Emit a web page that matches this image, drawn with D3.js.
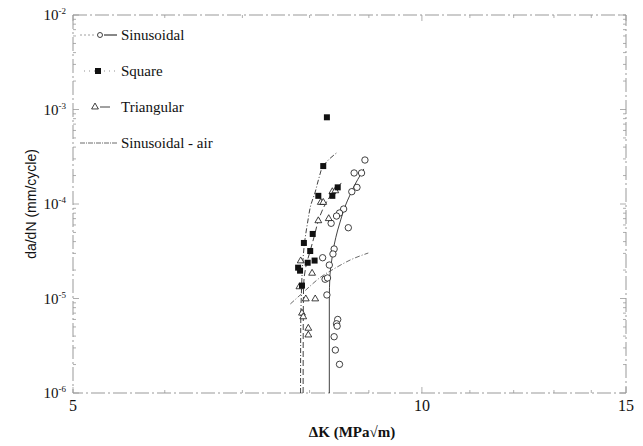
<!DOCTYPE html>
<html><head><meta charset="utf-8">
<script src="https://cdn.jsdelivr.net/npm/d3@7"></script>
<style>body{margin:0;background:#fff}svg{display:block}</style>
</head><body>
<svg id="chart" width="643" height="446"></svg>
<script>
// ---- data (ΔK in MPa√m, da/dN in mm/cycle) ----
const sinusoidalPts = [
  [8.93,2.92e-4],[8.74,2.13e-4],[8.87,2.13e-4],[8.79,1.50e-4],[8.70,1.35e-4],
  [8.56,8.85e-5],[8.49,8.03e-5],[8.44,7.46e-5],[8.35,6.25e-5],[8.64,5.61e-5],
  [8.40,3.34e-5],[8.38,2.96e-5],[8.21,2.70e-5],[8.32,2.26e-5],[8.25,1.60e-5],
  [8.29,1.65e-5],[8.28,1.09e-5],[8.46,6.0e-6],[8.44,5.4e-6],[8.45,5.1e-6],
  [8.40,3.94e-6],[8.42,2.85e-6],[8.49,2.01e-6]
];
const squarePts = [
  [8.28,8.27e-4],[8.22,2.52e-4],[8.14,1.22e-4],[8.46,1.50e-4],[8.37,1.22e-4],
  [8.05,4.82e-5],[7.91,3.87e-5],[8.01,3.18e-5],[8.08,2.52e-5],[7.97,2.39e-5],
  [7.82,2.12e-5],[7.85,1.97e-5],[7.88,1.37e-5]
];
const triangularPts = [
  [8.18,1.04e-4],[8.22,1.04e-4],[8.37,1.35e-4],[8.42,1.38e-4],[8.14,6.65e-5],
  [8.31,7.0e-5],[7.86,2.5e-5],[8.04,1.85e-5],[7.84,1.33e-5],[7.94,9.9e-6],
  [8.09,9.9e-6],[7.88,7.0e-6],[7.90,6.4e-6],[7.98,4.84e-6],[7.98,4.11e-6]
];
// fitted curves
const squareCurve = [
  [7.858,1e-6],[7.86,4.64e-6],[7.87,1.09e-5],[7.89,2.26e-5],[7.92,3.87e-5],
  [7.97,6.45e-5],[8.02,9.76e-5],[8.09,1.34e-4],[8.15,1.88e-4],[8.22,2.52e-4],
  [8.32,2.99e-4],[8.44,3.47e-4]
];
const triangularCurve = [
  [7.898,1e-6],[7.90,5.92e-6],[7.905,1.32e-5],[7.94,2.15e-5],[8.01,3.2e-5],
  [8.08,4.70e-5],[8.14,6.65e-5],[8.23,9.29e-5],[8.34,1.22e-4],[8.44,1.44e-4],
  [8.52,1.67e-4]
];
const sinusoidalCurve = [
  [8.32,1e-6],[8.32,9.64e-6],[8.33,1.77e-5],[8.36,2.55e-5],[8.40,3.68e-5],
  [8.46,5.31e-5],[8.52,7.11e-5],[8.58,9.29e-5],[8.67,1.25e-4],[8.75,1.59e-4],
  [8.86,2.08e-4],[8.91,2.35e-4]
];
const airCurve = [
  [7.70,8.75e-6],[7.94,1.23e-5],[8.16,1.65e-5],[8.42,2.10e-5],[8.67,2.55e-5],[8.99,3.03e-5]
];
const xTickLabels = [5,10,15];
const yTickExps = [-2,-3,-4,-5,-6];
const legendLabels = ["Sinusoidal","Square","Triangular","Sinusoidal - air"];

// ---- drawing ----
const svg = d3.select("#chart");
const x = d3.scaleLog().domain([5,15]).range([73,626]);
const y = d3.scaleLog().domain([1e-6,1e-2]).range([393,15]);
const ink = "#111", frame = "#999";
const serif = "'Liberation Serif','Times New Roman',serif";

// frame
const [x0,x1] = x.range(), [yb,yt] = y.range();
svg.append("rect").attr("x",x0).attr("y",yt).attr("width",x1-x0).attr("height",yb-yt)
  .attr("fill","none").attr("stroke",frame).attr("stroke-width",1)
  .attr("stroke-dasharray","14,3,2,3");

// y ticks (log, inward on left and right)
const yMinor = [];
for (let e=-6;e<-2;e++) for (let m=1;m<10;m++) yMinor.push(m*Math.pow(10,e));
yMinor.push(1e-2);
yMinor.forEach(v=>{
  const major = Math.abs(Math.log10(v)-Math.round(Math.log10(v)))<1e-9;
  const len = major?6:3;
  svg.append("line").attr("x1",x0).attr("x2",x0+len).attr("y1",y(v)).attr("y2",y(v))
    .attr("stroke",frame).attr("stroke-width",0.8);
  svg.append("line").attr("x1",x1).attr("x2",x1-len).attr("y1",y(v)).attr("y2",y(v))
    .attr("stroke",frame).attr("stroke-width",0.8);
});
// x ticks
[5,6,7,8,9,10,11,12,13,14,15].forEach(v=>{
  const len = xTickLabels.includes(v)?6:3;
  svg.append("line").attr("x1",x(v)).attr("x2",x(v)).attr("y1",yb).attr("y2",yb-len)
    .attr("stroke",frame).attr("stroke-width",0.8);
  svg.append("line").attr("x1",x(v)).attr("x2",x(v)).attr("y1",yt).attr("y2",yt+len)
    .attr("stroke",frame).attr("stroke-width",0.8);
});
// tick labels
xTickLabels.forEach(v=>{
  svg.append("text").attr("x",x(v)).attr("y",yb+18).attr("text-anchor","middle")
    .attr("font-family",serif).attr("font-size",16).attr("fill",ink).text(v);
});
yTickExps.forEach(e=>{
  const t = svg.append("text").attr("x",x0-7).attr("y",y(Math.pow(10,e))+5)
    .attr("text-anchor","end").attr("font-family",serif).attr("font-size",15).attr("fill",ink);
  t.append("tspan").text("10");
  t.append("tspan").attr("dy",-6).attr("font-size",9).text(String(e));
});
// axis titles
svg.append("text").attr("transform",`translate(36,${(yb+yt)/2}) rotate(-90)`)
  .attr("text-anchor","middle").attr("font-family","'Liberation Sans',Arial,sans-serif")
  .attr("font-size",14).attr("fill",ink).text("da/dN (mm/cycle)");
svg.append("text").attr("x",352).attr("y",437).attr("text-anchor","middle")
  .attr("font-family",serif).attr("font-size",15).attr("font-weight","bold").attr("fill",ink)
  .text("ΔK (MPa√m)");

// curves
const line = d3.line().x(d=>x(d[0])).y(d=>y(d[1])).curve(d3.curveMonotoneY);
const lineX = d3.line().x(d=>x(d[0])).y(d=>y(d[1])).curve(d3.curveMonotoneX);
svg.append("path").attr("d",line(squareCurve)).attr("fill","none").attr("stroke",ink)
  .attr("stroke-width",0.8).attr("stroke-dasharray","5,2,1,2");
svg.append("path").attr("d",line(triangularCurve)).attr("fill","none").attr("stroke",ink)
  .attr("stroke-width",0.8).attr("stroke-dasharray","6,3");
svg.append("path").attr("d",line(sinusoidalCurve)).attr("fill","none").attr("stroke",ink)
  .attr("stroke-width",0.8);
svg.append("path").attr("d",lineX(airCurve)).attr("fill","none").attr("stroke","#444")
  .attr("stroke-width",0.8).attr("stroke-dasharray","5,2,1,2");

// markers
const drawCircle = (g,cx,cy)=>g.append("circle").attr("cx",cx).attr("cy",cy).attr("r",3.2)
  .attr("fill","#fff").attr("stroke",ink).attr("stroke-width",0.8);
const drawSquare = (g,cx,cy)=>g.append("rect").attr("x",cx-3).attr("y",cy-3)
  .attr("width",6).attr("height",6).attr("fill",ink);
const triSym = d3.symbol().type(d3.symbolTriangle).size(20);
const drawTri = (g,cx,cy)=>g.append("path").attr("d",triSym())
  .attr("transform",`translate(${cx},${cy})`).attr("fill","#fff").attr("stroke",ink).attr("stroke-width",0.8);

const gm = svg.append("g");
sinusoidalPts.forEach(d=>drawCircle(gm,x(d[0]),y(d[1])));
triangularPts.forEach(d=>drawTri(gm,x(d[0]),y(d[1])));
squarePts.forEach(d=>drawSquare(gm,x(d[0]),y(d[1])));

// legend
const legY = [35,71,107,143];
const lg = svg.append("g");
legendLabels.forEach((lab,i)=>{
  const yy = legY[i];
  if (i===0){
    lg.append("line").attr("x1",80).attr("x2",96).attr("y1",yy).attr("y2",yy)
      .attr("stroke","#888").attr("stroke-width",0.8).attr("stroke-dasharray","2,2");
    lg.append("line").attr("x1",104).attr("x2",117).attr("y1",yy).attr("y2",yy)
      .attr("stroke",ink).attr("stroke-width",1);
    drawCircle(lg,100,yy).attr("r",2.5);
  } else if (i===1){
    lg.append("line").attr("x1",84).attr("x2",117).attr("y1",yy).attr("y2",yy)
      .attr("stroke","#777").attr("stroke-width",0.8).attr("stroke-dasharray","1,4");
    drawSquare(lg,98,yy);
  } else if (i===2){
    lg.append("line").attr("x1",100).attr("x2",110).attr("y1",yy).attr("y2",yy)
      .attr("stroke",ink).attr("stroke-width",0.8);
    drawTri(lg,95,yy);
  } else {
    lg.append("line").attr("x1",80).attr("x2",117).attr("y1",yy).attr("y2",yy)
      .attr("stroke","#444").attr("stroke-width",0.8).attr("stroke-dasharray","5,1,1,1");
  }
  lg.append("text").attr("x",121).attr("y",yy+5).attr("font-family",serif)
    .attr("font-size",15).attr("fill",ink).text(lab);
});
</script>
</body></html>
